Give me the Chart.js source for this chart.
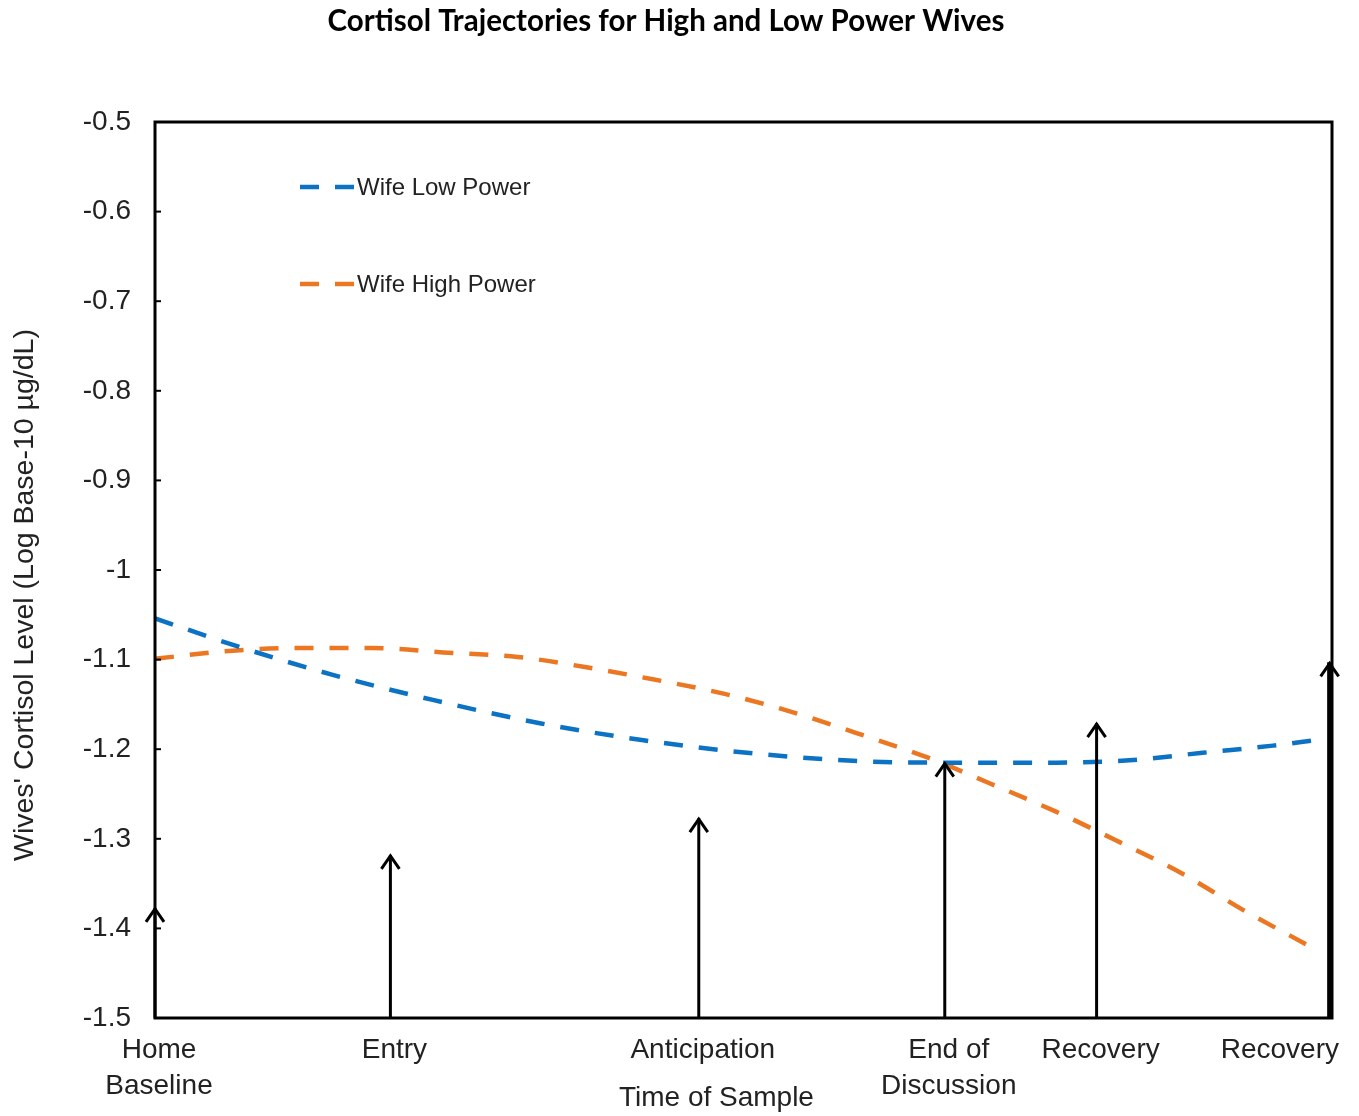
<!DOCTYPE html>
<html>
<head>
<meta charset="utf-8">
<script src="https://cdn.jsdelivr.net/npm/chart.js@4.4.1/dist/chart.umd.min.js"></script>
<style>
  html, body { margin: 0; padding: 0; background: #fff; }
  #wrap { width: 1359px; height: 1116px; }
</style>
</head>
<body>
<div id="wrap"><canvas id="cortisol-chart" width="1359" height="1116"></canvas></div>
<script>
// Data (x = relative time of sample, 0-100)
const lowPowerX = [0, 7.2, 15.1, 23.6, 32.7, 41.5, 50.3, 59.3, 67.5, 76.6, 83.1, 89.0, 95.0, 98.6];
const lowPowerY = [-1.054, -1.086, -1.117, -1.145, -1.171, -1.190, -1.204, -1.213, -1.215, -1.215, -1.212, -1.204, -1.196, -1.190];

const highPowerX = [0, 6.6, 12.6, 18.5, 24.5, 30.8, 36.4, 42.3, 48.3, 54.0, 59.6, 65.8, 70.9, 76.6, 82.0, 87.3, 92.4, 98.4];
const highPowerY = [-1.099, -1.090, -1.087, -1.087, -1.092, -1.097, -1.108, -1.122, -1.138, -1.158, -1.182, -1.210, -1.238, -1.270, -1.304, -1.339, -1.379, -1.422];

// Sample times (arrows) and where each arrow stops
const sampleX = [0, 20, 46.2, 67.1, 80, 99.8];
const arrowTop = [-1.377, -1.318, -1.277, -1.215, -1.171, -1.103];
const sampleLabels = [['Home', 'Baseline'], ['Entry'], ['Anticipation'], ['End of', 'Discussion'], ['Recovery'], ['Recovery']];

const yMin = -1.5;
const yMax = -0.5;

const BLUE = '#0b72c4';
const ORANGE = '#ec7722';
const AXIS_FONT = '"Liberation Sans", Arial, sans-serif';

function toPoints(xs, ys) {
  return xs.map((x, i) => ({ x: x, y: ys[i] }));
}

// Frame, inward ticks, arrows, legend and x labels
const decorations = {
  id: 'decorations',
  afterDatasetsDraw(chart) {
    const ctx = chart.ctx;
    const area = chart.chartArea;
    const xs = chart.scales.x;
    const ys = chart.scales.y;

    ctx.save();
    ctx.strokeStyle = '#000';
    ctx.lineWidth = 3;
    ctx.setLineDash([]);
    ctx.strokeRect(area.left, area.top, area.right - area.left, area.bottom - area.top);

    // small inward ticks on the y axis
    ctx.lineWidth = 2;
    for (let v = yMin; v <= yMax + 1e-9; v += 0.1) {
      const py = ys.getPixelForValue(v);
      ctx.beginPath();
      ctx.moveTo(area.left, py);
      ctx.lineTo(area.left + 6, py);
      ctx.stroke();
    }

    // arrows
    sampleX.forEach((x, i) => {
      const px = xs.getPixelForValue(x);
      const bottom = ys.getPixelForValue(yMin);
      const top = ys.getPixelForValue(arrowTop[i]);
      ctx.lineWidth = i === sampleX.length - 1 ? 5 : 3;
      ctx.beginPath();
      ctx.moveTo(px, bottom);
      ctx.lineTo(px, top);
      ctx.stroke();
      ctx.lineWidth = 3;
      ctx.beginPath();
      ctx.moveTo(px - 9, top + 14);
      ctx.lineTo(px, top + 1);
      ctx.lineTo(px + 9, top + 14);
      ctx.stroke();
    });

    // legend inside the plot
    const legend = [['Wife Low Power', BLUE, 187], ['Wife High Power', ORANGE, 284]];
    ctx.font = '24px ' + AXIS_FONT;
    ctx.textBaseline = 'middle';
    ctx.textAlign = 'left';
    legend.forEach(([text, color, y]) => {
      ctx.strokeStyle = color;
      ctx.lineWidth = 4.5;
      ctx.setLineDash([19, 16]);
      ctx.beginPath();
      ctx.moveTo(300, y);
      ctx.lineTo(356, y);
      ctx.stroke();
      ctx.setLineDash([]);
      ctx.fillStyle = '#222';
      ctx.fillText(text, 357, y + 1);
    });

    // sample labels below the axis
    ctx.font = '28px ' + AXIS_FONT;
    ctx.fillStyle = '#222';
    ctx.textAlign = 'center';
    sampleX.forEach((x, i) => {
      const lines = sampleLabels[i];
      const w = Math.max(...lines.map(l => ctx.measureText(l).width));
      let cx = xs.getPixelForValue(x) + 4;
      cx = Math.min(cx, chart.width - 20 - w / 2);
      cx = Math.max(cx, 8 + w / 2);
      lines.forEach((line, j) => {
        ctx.fillText(line, cx, area.bottom + 32 + j * 36);
      });
    });

    // x axis title
    ctx.fillText('Time of Sample', xs.getPixelForValue(47.7), area.bottom + 80);

    // y axis title
    ctx.translate(25, 595);
    ctx.rotate(-Math.PI / 2);
    ctx.font = '28.5px ' + AXIS_FONT;
    ctx.fillText("Wives' Cortisol Level (Log Base-10 \u00b5g/dL)", 0, 0);
    ctx.restore();
  }
};

const ctx = document.getElementById('cortisol-chart').getContext('2d');
const chart = new Chart(ctx, {
  type: 'line',
  data: {
    datasets: [{
      label: 'Wife Low Power',
      data: toPoints(lowPowerX, lowPowerY),
      borderColor: BLUE,
      borderWidth: 4.5,
      borderDash: [19, 16],
      pointRadius: 0,
      cubicInterpolationMode: 'monotone',
      fill: false
    }, {
      label: 'Wife High Power',
      data: toPoints(highPowerX, highPowerY),
      borderColor: ORANGE,
      borderWidth: 4.5,
      borderDash: [19, 16],
      pointRadius: 0,
      cubicInterpolationMode: 'monotone',
      fill: false
    }]
  },
  options: {
    responsive: false,
    animation: false,
    layout: { padding: { left: 0, right: 27, top: 0, bottom: 0 } },
    plugins: {
      legend: { display: false },
      tooltip: { enabled: false },
      title: {
        display: true,
        text: 'Cortisol Trajectories for High and Low Power Wives',
        color: '#000',
        font: { family: 'Lato, "Open Sans", sans-serif', size: 29.5, weight: 'bold' },
        padding: { top: 4, bottom: 82.6 }
      }
    },
    scales: {
      x: {
        type: 'linear',
        min: 0,
        max: 100,
        grid: { display: false },
        border: { display: false },
        ticks: { display: false },
        afterFit(scale) { scale.height = 98; }
      },
      y: {
        min: yMin,
        max: yMax,
        grid: { display: false, drawTicks: false },
        border: { display: false },
        ticks: {
          stepSize: 0.1,
          padding: 24,
          color: '#222',
          font: { family: AXIS_FONT, size: 28 },
          callback: v => String(Number(v.toFixed(1)))
        },
        afterFit(scale) { scale.width = 155; }
      }
    }
  },
  plugins: [decorations]
});
</script>
</body>
</html>
